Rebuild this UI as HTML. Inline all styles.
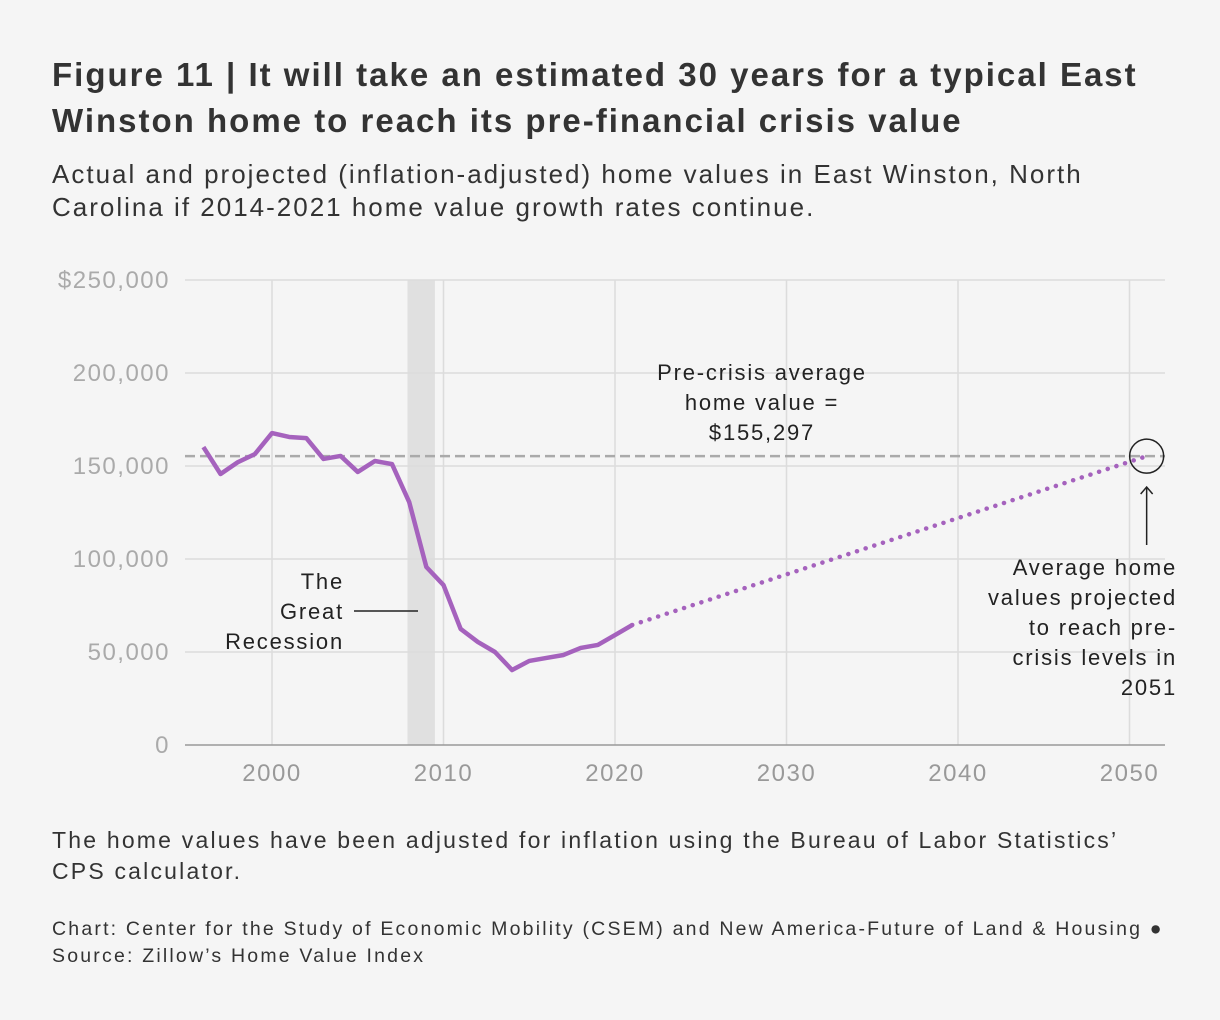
<!DOCTYPE html>
<html><head><meta charset="utf-8"><style>
body{margin:0;background:#f5f5f5;font-family:"Liberation Sans",sans-serif;}
#wrap{position:relative;width:1220px;height:1020px;background:#f5f5f5;}
.t{position:absolute;color:#222;white-space:nowrap;}
</style></head><body>
<div id="wrap">
<div class="t" style="left:52px;top:52px;font-size:33px;font-weight:bold;line-height:46px;color:#333;letter-spacing:2px;">Figure 11 | It will take an estimated 30 years for a typical East<br>Winston home to reach its pre-financial crisis value</div>
<div class="t" style="left:52px;top:158px;font-size:26px;line-height:33px;color:#333;letter-spacing:2px;">Actual and projected (inflation-adjusted) home values in East Winston, North<br>Carolina if 2014-2021 home value growth rates continue.</div>
<svg id="chart" width="1220" height="800" style="position:absolute;left:0;top:0;"></svg>
<div class="t" style="left:52px;top:825px;font-size:23px;line-height:31px;color:#333;letter-spacing:2.2px;">The home values have been adjusted for inflation using the Bureau of Labor Statistics’<br>CPS calculator.</div>
<div class="t" style="left:52px;top:916px;font-size:19.5px;line-height:27px;color:#333;letter-spacing:2.2px;">Chart: Center for the Study of Economic Mobility (CSEM) and New America-Future of Land &amp; Housing ●<br>Source: Zillow’s Home Value Index</div>
</div>
<script>
const years=[1996,1997,1998,1999,2000,2001,2002,2003,2004,2005,2006,2007,2008,2009,2010,2011,2012,2013,2014,2015,2016,2017,2018,2019,2020,2021];
const values=[160200,145700,152000,156400,167700,165600,165000,153800,155400,146800,152700,151000,130600,95700,86000,62400,55400,50000,40300,45200,46800,48400,52200,53800,59100,64500];
const projYears=[2021,2051];
const projValues=[64500,155297];
const preCrisis=155297;
const yTicks=[0,50000,100000,150000,200000,250000];
const yTickLabels=["0","50,000","100,000","150,000","200,000","$250,000"];
const xTicks=[2000,2010,2020,2030,2040,2050];
const recession=[2007.9,2009.5];
const X=v=>272+(v-2000)*17.15;
const Y=v=>745-v/250000*465;
const svg=document.getElementById('chart');
const NS='http://www.w3.org/2000/svg';
function mk(tag,a,name){const e=document.createElementNS(NS,tag);for(const k in a)e.setAttribute(k,a[k]);


svg.appendChild(e);return e;}
mk('rect',{x:X(recession[0]),y:Y(250000),width:X(recession[1])-X(recession[0]),height:Y(0)-Y(250000),fill:'#e0e0e0'},'recession-band');
yTicks.forEach((v,i)=>{if(v>0)mk('line',{x1:185,x2:1165,y1:Y(v),y2:Y(v),stroke:'#dcdcdc','stroke-width':1.5},'y-gridline');
const t=mk('text',{x:170,y:Y(v)+8,'text-anchor':'end','font-size':24,'letter-spacing':1.5,fill:'#aaa','font-family':'Liberation Sans'},'y-tick-label');t.textContent=yTickLabels[i];});
xTicks.forEach(v=>{mk('line',{x1:X(v),x2:X(v),y1:Y(250000),y2:Y(0),stroke:'#dcdcdc','stroke-width':1.5},'x-gridline');
const t=mk('text',{x:X(v),y:781,'text-anchor':'middle','font-size':24,'letter-spacing':1.5,fill:'#999','font-family':'Liberation Sans'},'x-tick-label');t.textContent=v;});
mk('line',{x1:185,x2:1165,y1:Y(0),y2:Y(0),stroke:'#999','stroke-width':1.5},'x-axis-line');
mk('line',{x1:185,x2:1165,y1:Y(preCrisis),y2:Y(preCrisis),stroke:'#aaa','stroke-width':2.5,'stroke-dasharray':'10,5'},'pre-crisis-line');
mk('polyline',{points:years.map((y,i)=>X(y)+','+Y(values[i])).join(' '),fill:'none',stroke:'#a562bd','stroke-width':4.5,'stroke-linejoin':'round'},'actual-values-line');
mk('polyline',{points:projYears.map((y,i)=>X(y)+','+Y(projValues[i])).join(' '),fill:'none',stroke:'#a562bd','stroke-width':4.5,'stroke-dasharray':'0.1,9','stroke-linecap':'round'},'projected-values-line');
mk('circle',{cx:X(2051),cy:Y(preCrisis),r:17,fill:'none',stroke:'#222','stroke-width':1.5},'target-circle');
mk('line',{x1:X(2051),x2:X(2051),y1:545,y2:488,stroke:'#222','stroke-width':1.5},'arrow-shaft');
mk('path',{d:`M${X(2051)-6},${494} L${X(2051)},${487} L${X(2051)+6},${494}`,fill:'none',stroke:'#222','stroke-width':1.5},'arrow-head');
mk('line',{x1:354,x2:418,y1:611,y2:611,stroke:'#222','stroke-width':1.5},'recession-leader');
function lines(arr,x,y0,anchor,name){arr.forEach((s,i)=>{const t=mk('text',{x:x,y:y0+i*30,'text-anchor':anchor,'font-size':22,'letter-spacing':1.8,fill:'#222','font-family':'Liberation Sans'},name);t.textContent=s;});}
lines(['The','Great','Recession'],344,589,'end','recession-label');
lines(['Pre-crisis average','home value =','$155,297'],762,380,'middle','pre-crisis-label');
lines(['Average home','values projected','to reach pre-','crisis levels in','2051'],1177,575,'end','projection-label');
</script>
</body></html>
